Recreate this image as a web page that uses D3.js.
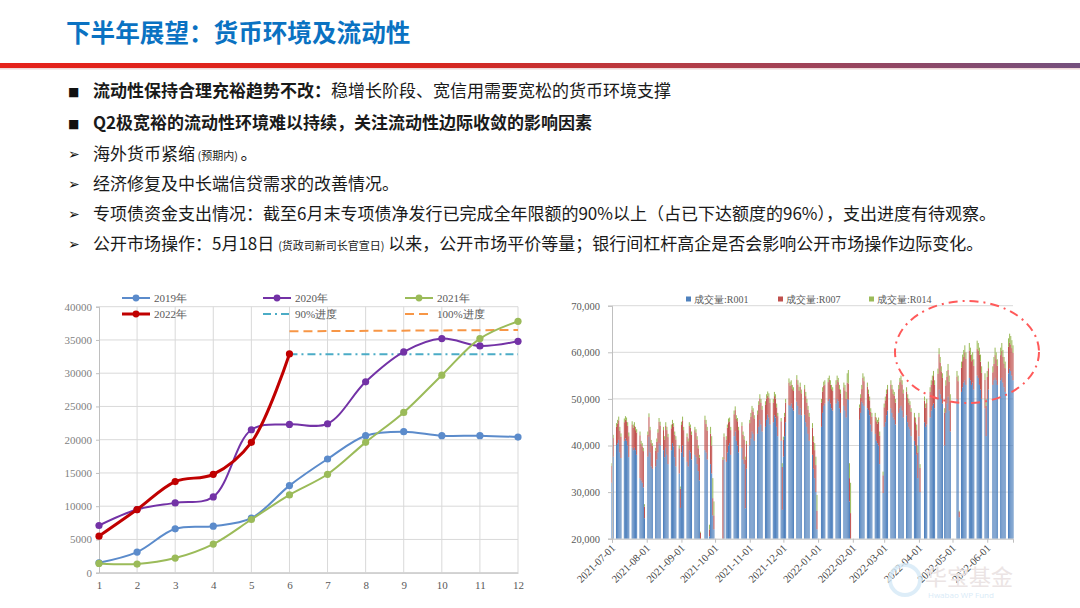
<!DOCTYPE html>
<html><head><meta charset="utf-8">
<script src="https://cdn.jsdelivr.net/npm/d3@7"></script>
<style>body{margin:0;background:#fff;} svg{display:block;}</style>
</head><body>
<svg id="c" width="1080" height="608"></svg>
<script>
// ---------------- DATA ----------------
const titleText = "下半年展望：货币环境及流动性";
const bulletLines = [
  {mark:"■", segs:[["流动性保持合理充裕趋势不改：","b"],["稳增长阶段、宽信用需要宽松的货币环境支撑",""]]},
  {mark:"■", segs:[["Q2极宽裕的流动性环境难以持续，关注流动性边际收敛的影响因素","b"]]},
  {mark:"➢", segs:[["海外货币紧缩",""],[" (预期内) ","s"],["。",""]]},
  {mark:"➢", segs:[["经济修复及中长端信贷需求的改善情况。",""]]},
  {mark:"➢", segs:[["专项债资金支出情况：截至6月末专项债净发行已完成全年限额的90%以上（占已下达额度的96%），支出进度有待观察。",""]]},
  {mark:"➢", segs:[["公开市场操作：5月18日 ",""],["(货政司新司长官宣日)","s"],[" 以来，公开市场平价等量；银行间杠杆高企是否会影响公开市场操作边际变化。",""]]}
];

// Left chart: cumulative special bond net issuance by month
const monthsL = [1,2,3,4,5,6,7,8,9,10,11,12];
const y2019 = [1500,3100,6600,7000,8200,13100,17100,20600,21200,20600,20600,20400];
const y2020 = [7100,9500,10500,11400,21500,22300,22400,28700,33200,35200,34100,34800];
const y2021 = [1400,1300,2200,4300,8000,11700,14800,19600,24100,29700,35200,37800];
const y2022 = [5500,9500,13700,14800,19600,32900];
const progress90 = [32850,32850];   // months 6..12
const progress100 = [36300,36500];  // months 6..12
const progressMonths = [6,12];
const yTicksL = [0,5000,10000,15000,20000,25000,30000,35000,40000];
const legendL = ["2019年","2020年","2021年","2022年","90%进度","100%进度"];

// Right chart: interbank repo volume (R001 / R007 / R014), by month of trading days
const holidays = ["2021-09-20","2021-09-21","2021-10-01","2021-10-04","2021-10-05","2021-10-06","2021-10-07",
  "2022-01-03","2022-01-31","2022-02-01","2022-02-02","2022-02-03","2022-02-04","2022-04-04","2022-04-05",
  "2022-05-02","2022-05-03","2022-05-04","2022-06-03"];
const makeupDays = ["2021-09-18","2021-09-26","2021-10-09","2022-01-29","2022-01-30","2022-04-02","2022-04-24","2022-05-07"];
const seriesR = ["成交量:R001","成交量:R007","成交量:R014"];
const r001 = [
 [32000,37600,40100,40500,41200,38500,37300,41000,41500,41000,40000,37500,39500,39000,39500,39000,38000,33000,32500,32000,31000,24400],
 [37600,41900,38500,35500,35000,35500,37000,38500,40500,40000,39000,37500,39500,38000,36000,39000,40500,39800,37500,35500,34000,26600],
 [38500,40000,37500,36500,35500,39000,38500,37000,38000,37500,36000,34500,32500,19000,39000,38500,37000,20500,36000,34000,25000,22000],
 [19500,37000,36500,38500,40000,40500,38000,42000,43000,41000,40000,38500,39500,37000,36000,26500,35000],
 [40000,41500,43000,42500,41000,42500,44000,45500,44500,43000,44000,45500,46600,46000,44500,45000,46500,46000,44000,42000,41000,26200],
 [37600,42000,45000,48700,48500,49000,48000,47500,49400,48500,46600,48000,46500,46600,45000,44000,42500,41000,38000,35000,33000,30000,22000],
 [44000,47000,48500,49000,49500,50000,49000,48000,47500,49000,50000,49500,48000,47000,48500,47500,46000,50000,49800,28000,19500],
 [45500,47000,49400,49000,48500,48000,47600,46500,44500,43000,42500,41000,40500,40000,36000,29800],
 [44000,45000,46500,47500,48000,47000,46000,45500,44500,47000,48000,48500,47500,46000,46500,45000,44000,43500,42000,41000,40000,38000,33000],
 [42000,30000,45000,44000,44500,46000,47500,48500,49000,48000,50000,52000,51000,50000,49000,40000,47000,49000,50500,47500,43000],
 [50000,49000,24600,51500,52500,53500,54000,53000,54500,54000,53000,53500,52000,55000,54500,53000,52000,50000,48000,42000],
 [50000,52000,53000,54000,54500,54000,53000,54000,54500,53500,52500,51500,55500,56500,56000,55000,54000]
];
const r007 = [
 [3600,4000,3900,4200,4200,4700,4600,4000,4000,4200,4200,4500,5000,4800,4700,4300,4800,9200,7800,7800,7800,2500],
 [4700,4200,4800,5000,4900,3400,3800,4300,4600,4300,4300,3800,4700,5300,5800,4700,4200,4300,4800,5800,5400,4100],
 [5900,5400,5800,5400,5400,5200,5300,5300,5300,5300,5300,4900,4900,2300,6500,6100,6200,1500,6500,6000,3700,3000],
 [17500,4900,4800,5300,5000,4700,5300,4700,4600,4700,5200,4800,4700,5300,5300,10500,5300],
 [4800,4700,4700,4700,4800,4200,4700,4600,4700,4700,4700,4600,4100,4300,4700,4200,4100,4100,4200,4300,4200,9200],
 [3600,4200,4200,4800,4300,4100,4100,4200,4800,4600,5200,4600,4700,5500,5600,5200,5200,5200,5800,5800,6000,5800,4000],
 [5200,4600,4300,4100,4100,4100,4100,4100,4200,4100,4100,4100,4100,4200,4000,4300,4000,3500,3500,5000,6000],
 [2600,3200,2700,5500,5300,4600,3500,3200,2700,3200,3700,4200,4200,5100,6100,3800],
 [4200,4700,4600,4600,5100,5100,5100,5200,4700,5100,5600,5600,5600,5200,5100,5200,5200,5200,5200,5100,5000,5300,5500],
 [4100,5200,4600,4100,4600,5500,5500,5500,5900,5000,5400,7600,6800,5900,5500,7100,5900,5800,5700,6200,6600],
 [4800,4800,1200,5200,5600,5500,6000,5600,5900,5500,5100,5000,5100,5800,5900,6500,6000,5600,6100,6500],
 [4700,4600,2700,3500,4900,4500,4100,5400,5800,5500,5100,5100,5700,5600,5700,5900,5900]
];
const r014 = [
 [600,700,800,800,800,800,700,800,800,800,800,800,700,700,800,700,700,800,700,700,700,500],
 [700,800,700,700,600,600,700,700,800,800,700,700,800,700,700,800,800,700,700,700,600,500],
 [700,800,700,700,600,800,700,700,700,700,700,600,600,200,900,900,800,1000,1500,2000,4300,3000],
 [500,700,700,700,800,800,700,800,800,800,700,700,800,700,700,600,700],
 [700,800,800,800,700,800,800,900,800,800,800,900,900,900,800,800,900,900,800,700,700,800],
 [700,800,800,900,900,900,900,800,900,900,800,900,800,900,900,800,800,800,1000,1200,1500,1800,3400],
 [800,900,900,900,900,900,900,900,800,900,900,900,900,800,1000,1200,1500,2000,2900,3200,6500],
 [700,800,900,1000,1000,900,900,800,800,800,800,800,800,900,900,800],
 [800,800,900,900,900,900,900,800,800,900,900,900,900,800,900,800,800,800,800,900,1000,1200,1500],
 [900,800,900,900,900,1000,1000,1000,1100,1000,1100,1300,1200,1100,1000,900,1100,1200,1300,1300,1400],
 [1200,1200,200,1300,1400,1500,1500,1400,1600,1500,1400,1500,1400,1700,1600,1500,1500,1400,1400,1500],
 [1300,1400,1300,1500,1600,1500,1400,1600,1700,1500,1400,1400,1800,1900,1800,1700,1600]
];
const yTicksR = [20000,30000,40000,50000,60000,70000];
const xTickLabelsR = ["2021-07-01","2021-08-01","2021-09-01","2021-10-01","2021-11-01","2021-12-01",
  "2022-01-01","2022-02-01","2022-03-01","2022-04-01","2022-05-01","2022-06-01"];

// ---------------- DRAW ----------------
const svg = d3.select("#c");
const CJK = "Noto Sans CJK SC, Noto Sans, sans-serif";
const SERIF = "Liberation Serif, Times New Roman, serif";

const defs = svg.append("defs");
const grad = defs.append("linearGradient").attr("id","bar").attr("x1","0").attr("x2","1");
[["0%","#E5221B"],["40%","#D8261F"],["62%","#B53C45"],["100%","#74507E"]].forEach(s=>
  grad.append("stop").attr("offset",s[0]).attr("stop-color",s[1]));

svg.append("text").attr("x",66).attr("y",42).attr("font-family",CJK).attr("font-weight","bold")
  .attr("font-size",24.6).attr("fill","#0A72C2").text(titleText);
svg.append("rect").attr("x",0).attr("y",63).attr("width",1080).attr("height",5).attr("fill","url(#bar)");
svg.append("rect").attr("x",0).attr("y",68).attr("width",1080).attr("height",1.5).attr("fill","#f0d8d8");

// bullets
const baselines = [97,129,160,190,220,250];
bulletLines.forEach((ln,i)=>{
  svg.append("text").attr("x",68).attr("y",baselines[i]-1)
    .attr("font-family","DejaVu Sans, sans-serif").attr("font-size",ln.mark==="■"?12:14)
    .attr("font-weight","bold").attr("fill","#111").text(ln.mark);
  const t = svg.append("text").attr("x",93).attr("y",baselines[i]).attr("font-family",CJK)
    .attr("font-size",17).attr("fill","#1a1a1a");
  ln.segs.forEach(s=>{
    const ts = t.append("tspan").text(s[0]);
    if (s[1]==="b") ts.attr("font-weight","bold");
    if (s[1]==="s") ts.attr("font-size",11);
  });
});

// ---------- Left chart ----------
const xL = d3.scaleLinear().domain([1,12]).range([99,518]);
const yL = d3.scaleLinear().domain([0,40000]).range([572.7,306.7]);
const gL = svg.append("g");
gL.selectAll(".hg").data(yTicksL).join("line").attr("x1",99).attr("x2",518)
  .attr("y1",d=>yL(d)).attr("y2",d=>yL(d)).attr("stroke","#D9D9D9").attr("stroke-width",1);
gL.selectAll(".vg").data(monthsL.slice(1)).join("line").attr("x1",d=>xL(d)).attr("x2",d=>xL(d))
  .attr("y1",yL(40000)).attr("y2",yL(0)).attr("stroke","#D9D9D9").attr("stroke-width",1);
const axL = gL.append("g").attr("transform","translate(99,0)")
  .call(d3.axisLeft(yL).tickValues(yTicksL).tickSize(3).tickPadding(4).tickFormat(d3.format("d")));
axL.attr("font-family",SERIF);
axL.select(".domain").attr("stroke","#BFBFBF");
axL.selectAll(".tick line").attr("stroke","#BFBFBF");
axL.selectAll("text").attr("font-size",11).attr("fill","#7f7f7f");
const axLb = gL.append("g").attr("transform",`translate(0,${yL(0)})`)
  .call(d3.axisBottom(xL).tickValues(monthsL).tickSize(0).tickPadding(9).tickFormat(d3.format("d")));
axLb.attr("font-family",SERIF);
axLb.select(".domain").attr("stroke","#BFBFBF");
axLb.selectAll("text").attr("font-size",11).attr("fill","#595959");

const seriesL = [
  {name:legendL[0], vals:y2019, color:"#5B8BCB", w:2},
  {name:legendL[1], vals:y2020, color:"#7332A6", w:2},
  {name:legendL[2], vals:y2021, color:"#9BBB59", w:2},
  {name:legendL[3], vals:y2022, color:"#C00000", w:3}
];
// progress lines
gL.append("path").datum(progressMonths.map((m,i)=>[m,progress100[i]]))
  .attr("d",d3.line().x(d=>xL(d[0])).y(d=>yL(d[1]))).attr("fill","none")
  .attr("stroke","#F79646").attr("stroke-width",2).attr("stroke-dasharray","9,5");
gL.append("path").datum(progressMonths.map((m,i)=>[m,progress90[i]]))
  .attr("d",d3.line().x(d=>xL(d[0])).y(d=>yL(d[1]))).attr("fill","none")
  .attr("stroke","#4BACC6").attr("stroke-width",2).attr("stroke-dasharray","8,4,2,4");
const lineL = d3.line().x((d,i)=>xL(monthsL[i])).y(d=>yL(d)).curve(d3.curveCatmullRom.alpha(0.5));
seriesL.forEach(s=>{
  gL.append("path").datum(s.vals).attr("d",lineL).attr("fill","none")
    .attr("stroke",s.color).attr("stroke-width",s.w);
  gL.selectAll(null).data(s.vals).join("circle").attr("cx",(d,i)=>xL(monthsL[i])).attr("cy",d=>yL(d))
    .attr("r",3.6).attr("fill",s.color);
});
// legend
const legPos = [[122,298],[263,298],[405,298],[122,314],[263,314],[405,314]];
const legStyle = [
  {c:"#5B8BCB",w:2,m:true},{c:"#7332A6",w:2,m:true},{c:"#9BBB59",w:2,m:true},
  {c:"#C00000",w:3,m:true},{c:"#4BACC6",w:2,da:"8,4,2,4"},{c:"#F79646",w:2,da:"9,5"}];
legendL.forEach((n,i)=>{
  const [x,y] = legPos[i], st = legStyle[i];
  gL.append("line").attr("x1",x).attr("x2",x+28).attr("y1",y).attr("y2",y).attr("stroke",st.c)
    .attr("stroke-width",st.w).attr("stroke-dasharray",st.da||null);
  if (st.m) gL.append("circle").attr("cx",x+14).attr("cy",y).attr("r",3.4).attr("fill",st.c);
  gL.append("text").attr("x",x+32).attr("y",y+4).attr("font-family",SERIF).attr("font-size",11)
    .attr("fill","#595959").text(n);
});

// ---------- Right chart ----------
const fmt = d3.timeFormat("%Y-%m-%d"), fmtM = d3.timeFormat("%Y-%m");
const parse = d3.timeParse("%Y-%m-%d");
const allDays = d3.timeDay.range(new Date(2021,6,1), new Date(2022,5,25));
const tradeDays = allDays.filter(d=>{
  const s = fmt(d), wd = d.getDay();
  if (makeupDays.includes(s)) return true;
  return wd!==0 && wd!==6 && !holidays.includes(s);
});
const monthGroups = d3.groups(tradeDays, d=>fmtM(d));
const recs = [];
monthGroups.forEach((g,mi)=>{
  g[1].forEach((d,k)=>{
    if (r001[mi] && r001[mi][k]!==undefined)
      recs.push({date:d, "成交量:R001":r001[mi][k], "成交量:R007":r007[mi][k], "成交量:R014":r014[mi][k]});
  });
});
const xR = d3.scaleTime().domain([new Date(2021,6,1), new Date(2022,5,24)]).range([612,1013]);
const yR = d3.scaleLinear().domain([20000,70000]).range([538.7,305.7]).clamp(true);
const gR = svg.append("g");
gR.selectAll(".hg").data(yTicksR.slice(1)).join("line").attr("x1",612).attr("x2",1013)
  .attr("y1",d=>yR(d)).attr("y2",d=>yR(d)).attr("stroke","#D9D9D9").attr("stroke-width",1);
const colorsR = ["#4F81BD","#C0504D","#9BBB59"];
const stackR = d3.stack().keys(seriesR)(recs);
stackR.forEach((layer,li)=>{
  gR.selectAll(null).data(layer).join("rect")
    .attr("x",d=>xR(d.data.date)-0.5).attr("width",1.0)
    .attr("y",d=>yR(d[1])).attr("height",d=>Math.max(0,yR(d[0])-yR(d[1])))
    .attr("fill",colorsR[li]);
});
const axR = gR.append("g").attr("transform","translate(612,0)")
  .call(d3.axisLeft(yR).tickValues(yTicksR).tickSize(4).tickPadding(8).tickFormat(d3.format(",")));
axR.attr("font-family",SERIF);
axR.select(".domain").attr("stroke","#BFBFBF");
axR.selectAll(".tick line").attr("stroke","#BFBFBF");
axR.selectAll("text").attr("font-size",10.5).attr("fill","#595959");
const tickDates = xTickLabelsR.map(parse);
const axRb = gR.append("g").attr("transform",`translate(0,${yR(20000)})`)
  .call(d3.axisBottom(xR).tickValues(tickDates).tickSize(4).tickFormat(""));
axRb.select(".domain").attr("stroke","#BFBFBF");
axRb.selectAll(".tick line").attr("stroke","#BFBFBF");

// watermark (faint, behind labels)
svg.append("circle").attr("cx",905).attr("cy",580).attr("r",15).attr("fill","none")
  .attr("stroke","#d4e8f6").attr("stroke-width",4).attr("opacity",0.8);
svg.append("text").attr("x",925).attr("y",585).attr("font-family",CJK).attr("font-size",22)
  .attr("fill","#ebe4e4").text("华宝基金");
svg.append("text").attr("x",928).attr("y",598).attr("font-family","Open Sans, sans-serif").attr("font-size",8)
  .attr("fill","#d9ebf7").text("Hwabao WP Fund");

gR.selectAll(".xl").data(tickDates).join("text")
  .attr("transform",d=>`translate(${xR(d)+4},${yR(20000)+10}) rotate(-45)`)
  .attr("text-anchor","end").attr("font-family",SERIF).attr("font-size",10.5).attr("fill","#404040")
  .text(d=>fmt(d));
// legend
const legRx = [686,778,869];
seriesR.forEach((n,i)=>{
  gR.append("rect").attr("x",legRx[i]).attr("y",296.5).attr("width",5).attr("height",5).attr("fill",colorsR[i]);
  gR.append("text").attr("x",legRx[i]+8).attr("y",303).attr("font-family",SERIF).attr("font-size",10)
    .attr("fill","#595959").text(n);
});
// highlight ellipse
gR.append("ellipse").attr("cx",967).attr("cy",352).attr("rx",72).attr("ry",51)
  .attr("fill","none").attr("stroke","#FF5A5A").attr("stroke-width",2).attr("stroke-dasharray","9,5,2,5");
</script>
</body></html>
